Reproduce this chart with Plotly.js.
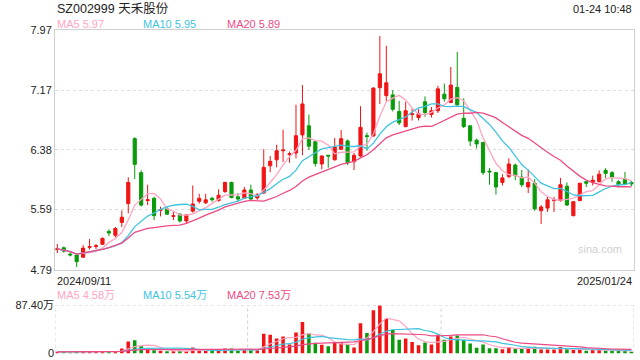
<!DOCTYPE html>
<html><head><meta charset="utf-8">
<script src="https://cdn.plot.ly/plotly-3.0.1.min.js"></script>
<style>html,body{margin:0;padding:0;background:#fff}#c{width:640px;height:360px}</style>
</head><body><div id="c"></div>
<script>
const openP  = [5.06,5.085,5.00,4.99,4.96,5.09,5.10,5.13,5.30,5.25,5.42,5.67,6.53,6.08,5.71,5.74,5.58,5.60,5.50,5.53,5.44,5.57,5.70,5.68,5.74,5.71,5.83,5.95,5.76,5.74,5.85,5.745,5.81,6.17,6.25,6.37,6.32,6.34,6.58,6.70,6.49,6.195,6.31,6.25,6.39,6.50,6.225,6.30,6.57,6.565,7.205,7.10,7.11,6.89,6.69,6.85,6.81,7.02,6.85,6.90,7.12,7.01,7.21,6.80,6.70,6.51,6.48,6.10,6.08,5.95,6.03,6.18,6.02,5.89,5.94,5.575,5.61,5.71,5.71,5.90,5.51,5.71,5.96,5.95,5.96,6.11,6.08,5.96,5.995,5.95];
const highP  = [5.135,5.10,5.04,5.01,5.12,5.20,5.135,5.22,5.33,5.36,5.58,6.02,6.55,6.11,5.92,5.76,5.63,5.63,5.56,5.54,5.53,5.91,5.80,5.80,5.76,5.86,5.96,5.96,5.81,5.89,5.92,5.81,6.39,6.30,6.45,6.65,6.36,6.98,7.24,6.85,6.50,6.31,6.31,6.54,6.645,6.52,6.34,6.96,6.61,7.21,7.89,7.76,7.175,7.03,7.02,6.93,6.92,7.09,6.95,7.23,7.26,7.48,7.68,7.065,6.70,6.53,6.49,6.14,6.09,6.06,6.27,6.20,6.115,6.12,5.995,5.65,5.76,5.76,6.01,5.95,5.70,5.94,5.97,6.04,6.11,6.14,6.10,5.98,6.09,5.97];
const lowP   = [5.015,5.02,4.97,4.83,4.95,5.06,5.065,5.13,5.24,5.22,5.36,5.54,5.995,5.63,5.65,5.45,5.50,5.52,5.45,5.42,5.41,5.55,5.67,5.665,5.695,5.695,5.81,5.74,5.695,5.73,5.72,5.72,5.80,6.085,6.15,6.22,6.21,6.27,6.31,6.38,6.16,6.125,6.145,6.24,6.38,6.18,6.115,6.29,6.37,6.56,6.99,7.03,6.89,6.71,6.68,6.77,6.77,6.82,6.81,6.87,7.02,7.00,6.95,6.67,6.43,6.40,6.05,5.92,5.79,5.91,6.005,5.98,5.89,5.81,5.575,5.40,5.56,5.56,5.695,5.64,5.50,5.70,5.89,5.91,5.95,6.01,5.96,5.90,5.93,5.90];
const closeP = [5.07,5.04,4.99,4.90,5.08,5.10,5.11,5.21,5.28,5.34,5.49,5.95,6.19,5.65,5.72,5.51,5.59,5.53,5.51,5.44,5.52,5.665,5.74,5.72,5.72,5.78,5.95,5.75,5.73,5.85,5.73,5.785,6.15,6.23,6.37,6.38,6.33,6.57,6.99,6.43,6.20,6.30,6.30,6.42,6.53,6.21,6.31,6.68,6.56,7.20,7.39,7.27,6.92,6.74,6.90,6.86,6.86,6.875,6.90,7.19,7.06,7.24,6.98,6.69,6.50,6.46,6.08,6.09,5.89,6.01,6.195,6.04,5.92,5.95,5.60,5.625,5.72,5.72,5.92,5.65,5.695,5.94,5.94,5.98,6.06,6.07,6.02,5.92,5.93,5.93];
const volume = [3,3,2,3,4,3,3,4,3,4,9,22,24,13,8,6,5,4,4,5,4,11,6,5,5,6,9,9,5,7,6,6,36,34,27,31,16.5,38,57,37,19.5,16,13,19,20,17,11,55,37,78.5,87.4,62.6,43,25,27,21,15,20,16.5,34,25,31,32.5,25,18,10.6,16.5,9.4,9.4,7.7,11.5,9.2,9.2,10.4,12.1,7.5,7.5,7.5,11.8,8.5,6.4,8.1,5.1,6.5,6.4,5,4.5,4.5,5.5,3.4];
const priceTicks = [4.79,5.59,6.38,7.17,7.97];
const priceTickText = ['4.79','5.59','6.38','7.17','7.97'];
const volTicks = [0,87.4];
const volTickText = ['0','87.40万'];
const stockTitle = 'SZ002999 天禾股份';
const timeStamp = '01-24 10:48';
const startDate = '2024/09/11';
const endDate = '2025/01/24';

const n = closeP.length;
const idx = closeP.map((_, i) => i);
function ma(arr, w) {
  return arr.map((_, i) => {
    const s = Math.max(0, i - w + 1);
    let t = 0; for (let k = s; k <= i; k++) t += arr[k];
    return t / (i - s + 1);
  });
}
const RED = '#f01414', GREEN = '#0a9a0a';
const C5 = '#ffa5c3', C10 = '#3fc3e0', C20 = '#ee4a86';
const upColors = idx.map(i => closeP[i] >= openP[i] ? RED : GREEN);
const pm5 = ma(closeP,5), pm10 = ma(closeP,10), pm20 = ma(closeP,20);
const vm5 = ma(volume,5), vm10 = ma(volume,10), vm20 = ma(volume,20);

const traces = [
  {type:'candlestick', x:idx, open:openP, high:highP, low:lowP, close:closeP, xaxis:'x', yaxis:'y',
   increasing:{line:{color:RED,width:1}, fillcolor:RED},
   decreasing:{line:{color:GREEN,width:1}, fillcolor:GREEN}, whiskerwidth:0, hoverinfo:'skip'},
  {type:'scatter', mode:'lines', x:idx, y:pm5, line:{color:C5,width:1.3}, xaxis:'x', yaxis:'y'},
  {type:'scatter', mode:'lines', x:idx, y:pm10, line:{color:C10,width:1.3}, xaxis:'x', yaxis:'y'},
  {type:'scatter', mode:'lines', x:idx, y:pm20, line:{color:C20,width:1.3}, xaxis:'x', yaxis:'y'},
  {type:'bar', x:idx, y:volume, marker:{color:upColors}, width:0.55, xaxis:'x2', yaxis:'y2'},
  {type:'scatter', mode:'lines', x:idx, y:vm5, line:{color:C5,width:1.2}, xaxis:'x2', yaxis:'y2'},
  {type:'scatter', mode:'lines', x:idx, y:vm10, line:{color:C10,width:1.2}, xaxis:'x2', yaxis:'y2'},
  {type:'scatter', mode:'lines', x:idx, y:vm20, line:{color:C20,width:1.2}, xaxis:'x2', yaxis:'y2'}
];
const FONT = 'Liberation Sans, Arial, Noto Sans CJK SC, sans-serif';
const xr = [-0.36, n - 1 + 0.4];
const fmt = v => v.toFixed(2);
const layout = {
  width:640, height:360, margin:{l:55,r:6,t:0,b:0}, showlegend:false,
  paper_bgcolor:'#fff', plot_bgcolor:'#fff', font:{family:FONT, color:'#333', size:11},
  xaxis:{domain:[0,1], range:xr, showgrid:false, zeroline:false, showticklabels:false,
         showline:true, mirror:true, linecolor:'#cfcfcf', linewidth:1, rangeslider:{visible:false}, fixedrange:true},
  yaxis:{domain:[0.25,0.9167], range:[4.79,7.97], tickvals:priceTicks, ticktext:priceTickText,
         showgrid:true, gridcolor:'#dcdcdc', griddash:'dot', zeroline:false, showline:true, mirror:true,
         linecolor:'#cfcfcf', ticks:'', ticklen:0, tickfont:{size:11,color:'#222'}, fixedrange:true},
  xaxis2:{domain:[0,1], range:xr, anchor:'y2', showgrid:false, zeroline:false, showticklabels:false,
          showline:false, fixedrange:true},
  yaxis2:{domain:[0.018,0.152], range:[0,87.4], anchor:'x2', tickvals:volTicks, ticktext:volTickText,
          showgrid:false, zeroline:false, showline:false, ticks:'', tickfont:{size:11,color:'#222'}, fixedrange:true},
  shapes:[
    {type:'line', xref:'x2', yref:'y2', x0:xr[0], x1:xr[1], y0:87.4, y1:87.4, line:{color:'#cfcfcf',width:1,dash:'dot'}},
    {type:'line', xref:'x2', yref:'y2', x0:xr[0], x1:xr[0], y0:0, y1:87.4, line:{color:'#cfcfcf',width:1,dash:'dot'}},
    {type:'line', xref:'x2', yref:'y2', x0:xr[1], x1:xr[1], y0:0, y1:87.4, line:{color:'#cfcfcf',width:1,dash:'dot'}},
    {type:'line', xref:'x2', yref:'y2', x0:29.5, x1:29.5, y0:0, y1:87.4, line:{color:'#cfcfcf',width:1,dash:'dot'}},
    {type:'line', xref:'x2', yref:'y2', x0:59.5, x1:59.5, y0:0, y1:87.4, line:{color:'#cfcfcf',width:1,dash:'dot'}}
  ],
  annotations:[
    {xref:'paper', yref:'paper', x:0, y:1-8.5/360, xanchor:'left', yanchor:'middle', showarrow:false,
     text:stockTitle, font:{size:12.5, color:'#222', family:FONT}},
    {xref:'paper', yref:'paper', x:1, y:1-9/360, xanchor:'right', yanchor:'middle', showarrow:false,
     text:timeStamp, font:{size:11, color:'#222'}},
    {xref:'paper', yref:'paper', x:0, y:1-24.5/360, xanchor:'left', yanchor:'middle', showarrow:false,
     text:'MA5 ' + fmt(pm5[n-1]), font:{size:11, color:C5}},
    {xref:'paper', yref:'paper', x:(141-55)/579, y:1-24.5/360, xanchor:'left', yanchor:'middle', showarrow:false,
     text:'MA10 ' + fmt(pm10[n-1]), font:{size:11, color:C10}},
    {xref:'paper', yref:'paper', x:(225-55)/579, y:1-24.5/360, xanchor:'left', yanchor:'middle', showarrow:false,
     text:'MA20 ' + fmt(pm20[n-1]), font:{size:11, color:C20}},
    {xref:'paper', yref:'paper', x:0, y:1-281/360, xanchor:'left', yanchor:'middle', showarrow:false,
     text:startDate, font:{size:11, color:'#222'}},
    {xref:'paper', yref:'paper', x:1, y:1-281/360, xanchor:'right', yanchor:'middle', showarrow:false,
     text:endDate, font:{size:11, color:'#222'}},
    {xref:'paper', yref:'paper', x:0, y:1-295/360, xanchor:'left', yanchor:'middle', showarrow:false,
     text:'MA5 ' + fmt(vm5[n-1]) + '万', font:{size:11, color:C5}},
    {xref:'paper', yref:'paper', x:(141-55)/579, y:1-295/360, xanchor:'left', yanchor:'middle', showarrow:false,
     text:'MA10 ' + fmt(vm10[n-1]) + '万', font:{size:11, color:C10}},
    {xref:'paper', yref:'paper', x:(225-55)/579, y:1-295/360, xanchor:'left', yanchor:'middle', showarrow:false,
     text:'MA20 ' + fmt(vm20[n-1]) + '万', font:{size:11, color:C20}},
    {xref:'paper', yref:'paper', x:(624-55)/579, y:1-249/360, xanchor:'right', yanchor:'middle', showarrow:false,
     text:'sina.com', font:{size:11, color:'#d0d0d0'}}
  ]
};
Plotly.newPlot('c', traces, layout, {staticPlot:true, displayModeBar:false});
</script></body></html>
